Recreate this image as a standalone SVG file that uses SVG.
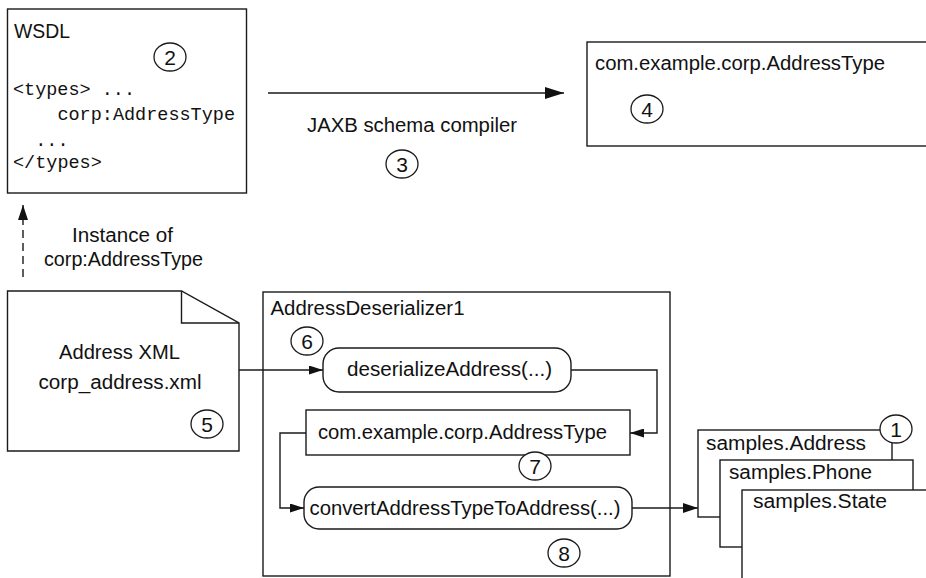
<svg xmlns="http://www.w3.org/2000/svg" width="926" height="578" viewBox="0 0 926 578">
<style>
.t{font-family:"Liberation Sans",Arial,sans-serif;font-size:19.5px;fill:#111}
.s18{font-size:20px}
.m{font-family:"Liberation Mono","Courier New",monospace;font-size:18px;fill:#111}
.n{font-family:"Liberation Sans",Arial,sans-serif;font-size:21px;fill:#111;text-anchor:middle}
.box{fill:#fff;stroke:#1a1a1a;stroke-width:1.4}
.ln{fill:none;stroke:#1a1a1a;stroke-width:1.4}
.c{fill:#fff;stroke:#1a1a1a;stroke-width:1.3}
</style>
<defs>
<marker id="big" markerUnits="userSpaceOnUse" markerWidth="19" markerHeight="12" refX="19" refY="6" orient="auto"><path d="M0,0 L19,6 L0,12 z" fill="#111"/></marker>
<marker id="sm" markerUnits="userSpaceOnUse" markerWidth="14" markerHeight="9" refX="14" refY="4.5" orient="auto"><path d="M0,0 L14,4.5 L0,9 z" fill="#111"/></marker>
<marker id="md" markerUnits="userSpaceOnUse" markerWidth="15" markerHeight="10" refX="15" refY="5" orient="auto"><path d="M0,0 L15,5 L0,10 z" fill="#111"/></marker>
</defs>

<g id="wsdl">
<rect class="box" x="7.5" y="9" width="239" height="184"/>
<text class="t s18" x="14" y="38" textLength="56" lengthAdjust="spacingAndGlyphs">WSDL</text>
<text class="m" x="13" y="95" textLength="122" lengthAdjust="spacingAndGlyphs">&lt;types&gt; ...</text>
<text class="m" x="57.4" y="120" textLength="177.6" lengthAdjust="spacingAndGlyphs">corp:AddressType</text>
<text class="m" x="35.2" y="145.5" textLength="33.3" lengthAdjust="spacingAndGlyphs">...</text>
<text class="m" x="13" y="168" textLength="88.8" lengthAdjust="spacingAndGlyphs">&lt;/types&gt;</text>
<ellipse class="c" cx="170" cy="57" rx="16" ry="14"/>
<text class="n" x="170" y="64.5">2</text>
</g>

<g id="generated-type">
<rect class="box" x="587" y="42" width="350" height="104"/>
<text class="t" x="595" y="70" textLength="290" lengthAdjust="spacingAndGlyphs">com.example.corp.AddressType</text>
<ellipse class="c" cx="647" cy="109" rx="16" ry="14"/>
<text class="n" x="647" y="116.5">4</text>
</g>

<g id="compiler-label">
<text class="t" x="307" y="132" textLength="210" lengthAdjust="spacingAndGlyphs">JAXB schema compiler</text>
<ellipse class="c" cx="402" cy="164" rx="16" ry="14"/>
<text class="n" x="402" y="171.5">3</text>
</g>

<g id="instance-label">
<text class="t" x="72" y="242" textLength="101" lengthAdjust="spacingAndGlyphs">Instance of</text>
<text class="t" x="44" y="266" textLength="159" lengthAdjust="spacingAndGlyphs">corp:AddressType</text>
</g>

<g id="address-xml">
<path class="box" d="M7.5,291 H181.5 L239,323 V451 H7.5 Z"/>
<path class="ln" d="M181.5,291 V323 H239"/>
<text class="t" x="59" y="359" textLength="121" lengthAdjust="spacingAndGlyphs">Address XML</text>
<text class="t" x="38.5" y="389" textLength="163" lengthAdjust="spacingAndGlyphs">corp_address.xml</text>
<ellipse class="c" cx="207" cy="424" rx="16" ry="14"/>
<text class="n" x="207" y="431.5">5</text>
</g>

<g id="deserializer">
<rect class="box" x="263" y="292" width="407" height="284"/>
<text class="t" x="270.5" y="314.5" textLength="194" lengthAdjust="spacingAndGlyphs">AddressDeserializer1</text>
</g>

<g id="deserialize-method">
<rect class="box" x="323" y="348" width="248" height="44" rx="16" ry="16"/>
<text class="t" x="347" y="376" textLength="205" lengthAdjust="spacingAndGlyphs">deserializeAddress(...)</text>
<ellipse class="c" cx="307" cy="341" rx="16" ry="14"/>
<text class="n" x="307" y="348.5">6</text>
</g>

<g id="address-type-object">
<rect class="box" x="306" y="410" width="324" height="45"/>
<text class="t" x="318" y="439" textLength="289" lengthAdjust="spacingAndGlyphs">com.example.corp.AddressType</text>
<ellipse class="c" cx="535" cy="466" rx="16" ry="14"/>
<text class="n" x="535" y="473.5">7</text>
</g>

<g id="convert-method">
<rect class="box" x="304" y="487" width="328" height="42" rx="15" ry="15"/>
<text class="t" x="309.5" y="515" textLength="311" lengthAdjust="spacingAndGlyphs">convertAddressTypeToAddress(...)</text>
<ellipse class="c" cx="564" cy="553" rx="16" ry="14"/>
<text class="n" x="564" y="560.5">8</text>
</g>

<g id="samples">
<rect class="box" x="698" y="430" width="194" height="87"/>
<text class="t s18" x="706" y="450" textLength="160" lengthAdjust="spacingAndGlyphs">samples.Address</text>
<rect class="box" x="720" y="460" width="193" height="87"/>
<text class="t s18" x="729" y="478.5" textLength="143" lengthAdjust="spacingAndGlyphs">samples.Phone</text>
<rect class="box" x="742" y="490" width="200" height="100"/>
<text class="t s18" x="753" y="507.5" textLength="134" lengthAdjust="spacingAndGlyphs">samples.State</text>
<ellipse class="c" cx="896" cy="429" rx="16" ry="14"/>
<text class="n" x="896" y="436.5">1</text>
</g>

<g id="connectors">
<path class="ln" d="M268,93 H564" marker-end="url(#big)"/>
<path class="ln" d="M23,277 V205" stroke-dasharray="8,5" marker-end="url(#md)"/>
<path class="ln" d="M239,370 H323" marker-end="url(#sm)"/>
<path class="ln" d="M571,370 H657 V433 H630" marker-end="url(#sm)"/>
<path class="ln" d="M306,433 H280 V508 H304" marker-end="url(#sm)"/>
<path class="ln" d="M632,508 H698" marker-end="url(#md)"/>
</g>
</svg>
